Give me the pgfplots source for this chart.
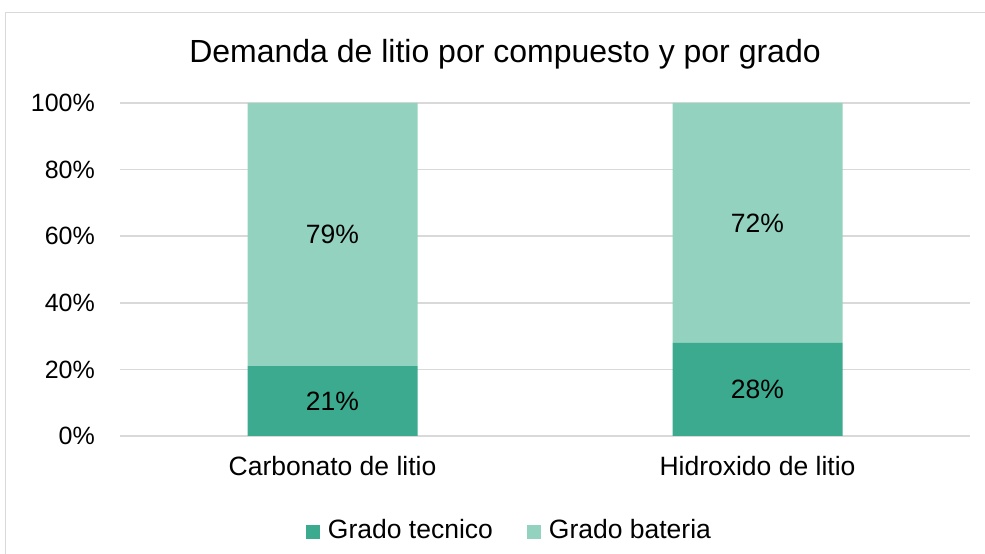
\documentclass[border=0pt]{standalone}
\usepackage{pgfplots}
\pgfplotsset{compat=1.18}
\usepackage{fontspec}
\setmainfont{Liberation Sans}
\definecolor{darkg}{HTML}{3BAA8E}
\definecolor{lightg}{HTML}{93D2BF}
\definecolor{gridc}{HTML}{D9D9D9}
\newcommand\fs{\fontsize{26.5}{31}\selectfont}
\begin{document}
\begin{tikzpicture}
\path[use as bounding box] (0,0) rectangle (985pt,554pt);
\draw[gridc, line width=1.5pt] (5.5pt,0) -- (5.5pt,541.5pt) -- (985pt,541.5pt);
\node[anchor=base, font=\fontsize{32}{38}\selectfont, inner sep=0pt] at (505pt,491pt) {Demanda de litio por compuesto y por grado};
\begin{axis}[
  at={(120pt,118pt)}, anchor=south west,
  scale only axis, width=850pt, height=333pt,
  ybar stacked, bar width=0.4,
  xmin=-0.5, xmax=1.5, ymin=0, ymax=100,
  xtick={0,1}, xticklabels={Carbonato de litio, Hidroxido de litio},
  ytick={0,20,...,100}, yticklabel={\pgfmathprintnumber{\tick}\%},
  /pgf/number format/assume math mode=true,
  ymajorgrids, major grid style={gridc, line width=1.5pt},
  axis line style={draw=none},
  major tick length=0pt,
  tick label style={font=\fs, inner sep=0pt},
  yticklabel style={anchor=east, xshift=-25pt, font=\fontsize{25}{30}\selectfont},
  xticklabel style={anchor=north, yshift=-20pt},
  legend columns=2,
  legend cell align=left,
  legend image code/.code={\fill[#1] (0pt,-9pt) rectangle (14pt,5pt); \path (22pt,0pt);},
  legend style={at={(0.457,-0.282)}, anchor=center, draw=none, fill=none, font=\fs, inner sep=0pt,
    nodes={inner sep=0pt},
    /tikz/every even column/.append style={column sep=34pt}},
]
\addplot[fill=darkg, draw=none] coordinates {(0,21) (1,28)};
\addlegendentry{Grado tecnico}
\addplot[fill=lightg, draw=none] coordinates {(0,79) (1,72)};
\addlegendentry{Grado bateria}
\end{axis}
\begin{axis}[
  at={(120pt,118pt)}, anchor=south west,
  scale only axis, width=850pt, height=333pt,
  xmin=-0.5, xmax=1.5, ymin=0, ymax=100,
  hide axis,
]
\addplot[only marks, mark=none, draw=none,
  nodes near coords, point meta=explicit symbolic,
  every node near coord/.append style={anchor=center, font=\fs, text=black, inner sep=0pt}]
  coordinates {(0,10.5) [21\%] (0,60.5) [79\%] (1,14) [28\%] (1,64) [72\%]};
\end{axis}
\end{tikzpicture}
\end{document}
